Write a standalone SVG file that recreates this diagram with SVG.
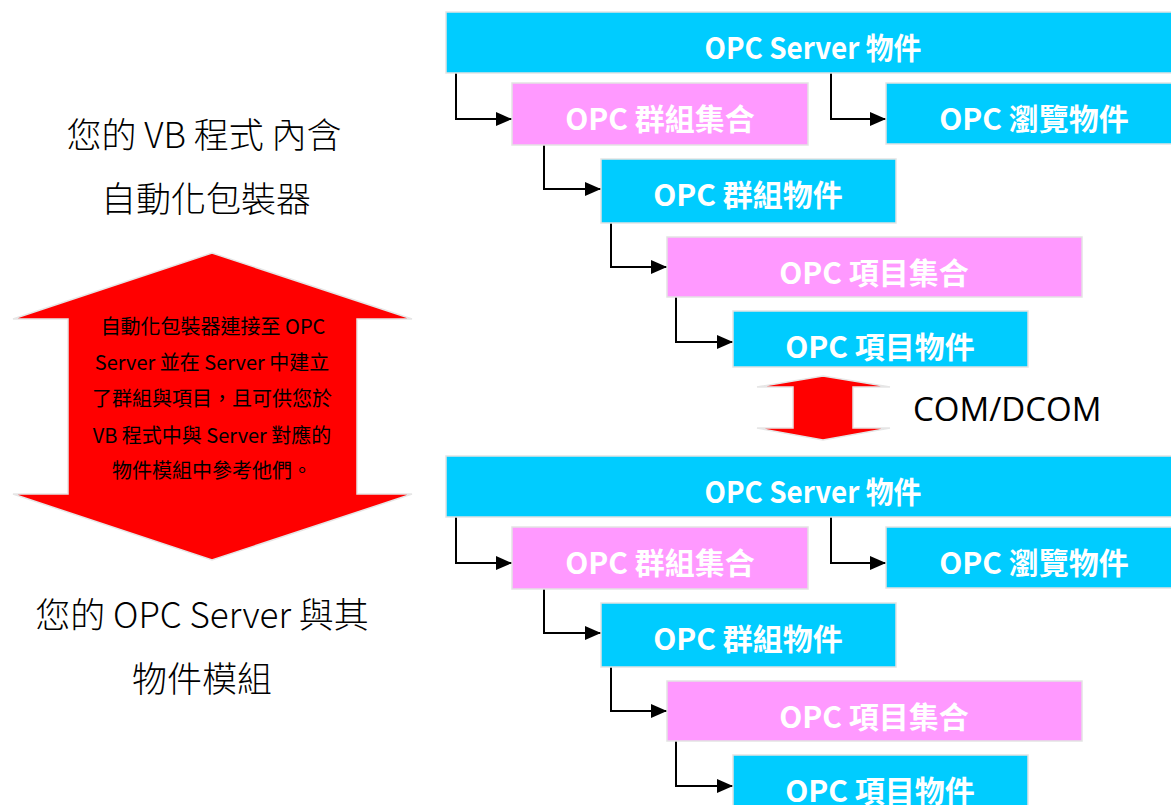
<svg xmlns="http://www.w3.org/2000/svg" width="1171" height="805" viewBox="0 0 1171 805">
<defs>
<marker id="ah" markerUnits="userSpaceOnUse" viewBox="0 0 16 14" refX="16" refY="7" markerWidth="16" markerHeight="14" orient="auto">
<path d="M0 0 L16 7 L0 14 Z" fill="#000"/>
</marker>
<style>
.cy{fill:#00ccff;stroke:#e3e3e3;stroke-width:1.5}
.pk{fill:#ff99ff;stroke:#e3e3e3;stroke-width:1.5}
.bt{font-family:"Noto Sans CJK TC","Noto Sans",sans-serif;font-weight:700;font-size:30px;fill:#fff;text-anchor:middle}
.lt{font-family:"Noto Sans CJK TC","Noto Sans",sans-serif;font-weight:300;font-size:35px;fill:#000;text-anchor:middle}
.at{font-family:"Noto Sans CJK TC","Noto Sans",sans-serif;font-weight:400;font-size:20px;fill:#000;text-anchor:middle}
.red{fill:#ff0000;stroke:#e6e6e6;stroke-width:1.5}
.cn{fill:none;stroke:#000;stroke-width:2;marker-end:url(#ah)}
</style>
</defs>
<rect width="1171" height="805" fill="#fff"/>

<g id="label-vb">
<text class="lt" x="204" y="148">您的 VB 程式 內含</text>
<text class="lt" x="206" y="212">自動化包裝器</text>
</g>
<g id="big-arrow">
<polygon class="red" points="212,253 412,319 357,319 357,494 412,494 212,560 13,494 68,494 68,319 13,319"/>
<text class="at" x="213" y="334">自動化包裝器連接至 OPC</text>
<text class="at" x="212" y="370">Server 並在 Server 中建立</text>
<text class="at" x="212" y="406">了群組與項目，且可供您於</text>
<text class="at" x="212" y="443">VB 程式中與 Server 對應的</text>
<text class="at" x="212" y="478">物件模組中參考他們。</text>
</g>
<g id="label-server">
<text class="lt" x="202" y="628">您的 OPC Server 與其</text>
<text class="lt" x="202" y="692">物件模組</text>
</g>

<g id="com-arrow">
<polygon class="red" points="823,376 890,387 853,387 853,428 890,428 823,440 757,428 793,428 793,387 757,387"/>
<text x="913" y="421" font-family="Open Sans, Liberation Sans, sans-serif" font-size="33" fill="#000">COM/DCOM</text>
</g>

<g id="connectors">
<path class="cn" d="M456 73 V119 H512"/>
<path class="cn" d="M831 73 V119 H886"/>
<path class="cn" d="M544 145 V189 H601"/>
<path class="cn" d="M611 223 V267 H667"/>
<path class="cn" d="M676 297 V342 H733"/>
<path class="cn" d="M456 517 V563 H512"/>
<path class="cn" d="M831 517 V563 H886"/>
<path class="cn" d="M544 589 V633 H601"/>
<path class="cn" d="M611 667 V711 H667"/>
<path class="cn" d="M676 741 V786 H733"/>
</g>

<g id="top-server"><rect class="cy" x="446" y="12" width="740" height="61"/><text class="bt" x="813" y="59" textLength="217" lengthAdjust="spacingAndGlyphs">OPC Server 物件</text></g>
<g id="top-groups"><rect class="pk" x="512" y="83" width="296" height="62"/><text class="bt" x="660" y="130">OPC 群組集合</text></g>
<g id="top-browser"><rect class="cy" x="886" y="83" width="296" height="61"/><text class="bt" x="1034" y="130">OPC 瀏覽物件</text></g>
<g id="top-group"><rect class="cy" x="601" y="159" width="295" height="64"/><text class="bt" x="748" y="206">OPC 群組物件</text></g>
<g id="top-items"><rect class="pk" x="667" y="237" width="415" height="60"/><text class="bt" x="874" y="284">OPC 項目集合</text></g>
<g id="top-item"><rect class="cy" x="733" y="311" width="295" height="56"/><text class="bt" x="880" y="358">OPC 項目物件</text></g>

<g id="bot-server"><rect class="cy" x="446" y="456" width="740" height="61"/><text class="bt" x="813" y="503" textLength="217" lengthAdjust="spacingAndGlyphs">OPC Server 物件</text></g>
<g id="bot-groups"><rect class="pk" x="512" y="527" width="296" height="62"/><text class="bt" x="660" y="574">OPC 群組集合</text></g>
<g id="bot-browser"><rect class="cy" x="886" y="527" width="296" height="61"/><text class="bt" x="1034" y="574">OPC 瀏覽物件</text></g>
<g id="bot-group"><rect class="cy" x="601" y="603" width="295" height="64"/><text class="bt" x="748" y="650">OPC 群組物件</text></g>
<g id="bot-items"><rect class="pk" x="667" y="681" width="415" height="60"/><text class="bt" x="874" y="728">OPC 項目集合</text></g>
<g id="bot-item"><rect class="cy" x="733" y="755" width="295" height="56"/><text class="bt" x="880" y="802">OPC 項目物件</text></g>
</svg>
